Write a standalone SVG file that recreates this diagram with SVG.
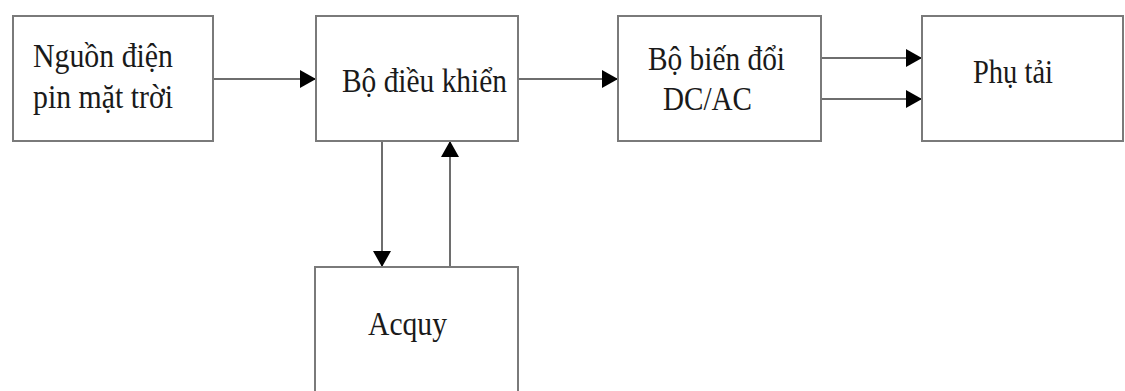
<svg xmlns="http://www.w3.org/2000/svg" width="1125" height="391" viewBox="0 0 1125 391">
<style>
.box{fill:#fff;stroke:#7a7a7a;stroke-width:2}
.t{font-family:"Liberation Serif","Times New Roman",serif;font-size:33px;fill:#1a1a1a}
.c{stroke:#6e6e6e;stroke-width:2;fill:none}
</style>
<defs>
<marker id="ah" viewBox="0 0 16 18" refX="16" refY="9" markerWidth="16" markerHeight="18" markerUnits="userSpaceOnUse" orient="auto">
<path d="M0,0 L16,9 L0,18 Z" fill="#000"/>
</marker>
</defs>
<rect width="1125" height="391" fill="#fff"/>
<g id="connectors">
<line class="c" x1="213" y1="79" x2="316" y2="79" marker-end="url(#ah)"/>
<line class="c" x1="518" y1="79" x2="618" y2="79" marker-end="url(#ah)"/>
<line class="c" x1="821" y1="58" x2="922" y2="58" marker-end="url(#ah)"/>
<line class="c" x1="821" y1="99" x2="922" y2="99" marker-end="url(#ah)"/>
<line class="c" x1="382" y1="141" x2="382" y2="267" marker-end="url(#ah)"/>
<line class="c" x1="450" y1="267" x2="450" y2="141" marker-end="url(#ah)"/>
</g>
<g id="nguon">
<rect class="box" x="13" y="16" width="200" height="125"/>
<text class="t" x="33" y="67" textLength="140" lengthAdjust="spacingAndGlyphs">Nguồn điện</text>
<text class="t" x="33" y="108" textLength="140" lengthAdjust="spacingAndGlyphs">pin mặt trời</text>
</g>
<g id="dieukhien">
<rect class="box" x="316" y="16" width="202" height="125"/>
<text class="t" x="342" y="92" textLength="165" lengthAdjust="spacingAndGlyphs">Bộ điều khiển</text>
</g>
<g id="biendoi">
<rect class="box" x="618" y="16" width="203" height="125"/>
<text class="t" x="648" y="70" textLength="137" lengthAdjust="spacingAndGlyphs">Bộ biến đổi</text>
<text class="t" x="663" y="110" textLength="89" lengthAdjust="spacingAndGlyphs">DC/AC</text>
</g>
<g id="phutai">
<rect class="box" x="922" y="16" width="201" height="125"/>
<text class="t" x="973" y="83" textLength="80" lengthAdjust="spacingAndGlyphs">Phụ tải</text>
</g>
<g id="acquy">
<rect class="box" x="315" y="267" width="203" height="140"/>
<text class="t" x="368" y="335" textLength="79" lengthAdjust="spacingAndGlyphs">Acquy</text>
</g>
</svg>
